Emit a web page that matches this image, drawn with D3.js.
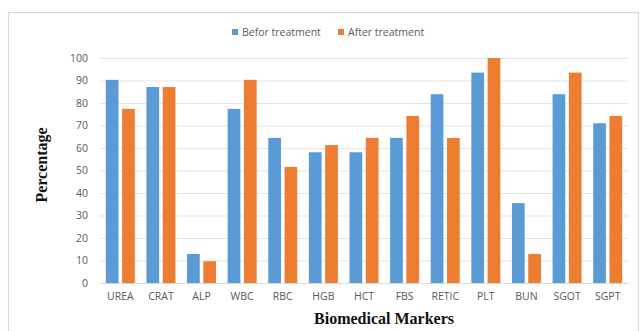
<!DOCTYPE html>
<html>
<head>
<meta charset="utf-8">
<script src="https://cdn.jsdelivr.net/npm/d3@7"></script>
<style>
  html, body { margin: 0; padding: 0; background: #fff; }
  svg { display: block; }
  .tick text { fill: #595959; font-family: 'Open Sans', sans-serif; font-size: 10.5px; }
  .axis-title { font-family: 'Liberation Serif', 'Times New Roman', serif; font-weight: bold; font-size: 16px; fill: #111; }
</style>
</head>
<body>
<svg></svg>
<script>
const markers = ['UREA', 'CRAT', 'ALP', 'WBC', 'RBC', 'HGB', 'HCT', 'FBS', 'RETIC', 'PLT', 'BUN', 'SGOT', 'SGPT'];
const before = [90.3, 87.1, 12.9, 77.4, 64.5, 58.1, 58.1, 64.5, 83.9, 93.5, 35.5, 83.9, 71.0];
const after = [77.4, 87.1, 9.7, 90.3, 51.6, 61.3, 64.5, 74.2, 64.5, 100, 12.9, 93.5, 74.2];
const seriesNames = ['Befor treatment', 'After treatment'];
const yTicks = [0, 10, 20, 30, 40, 50, 60, 70, 80, 90, 100];

const colors = ['#5B9BD5', '#ED7D31'];
const width = 641, height = 331;
const margin = {top: 58, right: 13, bottom: 48, left: 100};
const innerWidth = width - margin.left - margin.right;
const innerHeight = height - margin.top - margin.bottom;

const svg = d3.select('svg')
  .attr('width', width)
  .attr('height', height);

// chart frame (bottom edge falls outside the picture)
svg.append('rect')
  .attr('x', 8.5).attr('y', 12.5)
  .attr('width', 630).attr('height', height)
  .attr('fill', 'none')
  .attr('stroke', '#d9d9d9')
  .attr('stroke-width', 1.2);

const g = svg.append('g')
  .attr('transform', `translate(${margin.left}, ${margin.top})`);

const xScale = d3.scaleBand()
  .domain(markers)
  .range([0, innerWidth])
  .paddingInner(0.286)
  .paddingOuter(0.143);

const xInner = d3.scaleBand()
  .domain([0, 1])
  .range([0, xScale.bandwidth()])
  .paddingInner(0.22);

const yScale = d3.scaleLinear()
  .domain([0, 100])
  .range([innerHeight, 0]);

g.append('g').call(d3.axisLeft(yScale)
    .tickValues(yTicks)
    .tickSize(-innerWidth)
    .tickPadding(12))
  .call(a => a.select('.domain').remove())
  .call(a => a.selectAll('.tick line').attr('stroke', '#e3e3e3'));

g.append('g')
  .attr('transform', `translate(0, ${innerHeight})`)
  .call(d3.axisBottom(xScale).tickSize(0).tickPadding(10))
  .call(a => a.select('.domain').attr('stroke', '#d9d9d9'));

const data = markers.map((m, i) => ({marker: m, values: [before[i], after[i]]}));

const groups = g.selectAll('.group')
  .data(data)
  .join('g')
    .attr('transform', d => `translate(${xScale(d.marker)}, 0)`);

groups.selectAll('rect')
  .data(d => d.values.map((v, k) => ({k, v})))
  .join('rect')
    .attr('x', d => xInner(d.k))
    .attr('width', xInner.bandwidth())
    .attr('y', d => yScale(d.v))
    .attr('height', d => innerHeight - yScale(d.v))
    .attr('fill', d => colors[d.k]);

// legend
const legendX = [232, 338];
seriesNames.forEach((name, i) => {
  svg.append('rect')
    .attr('x', legendX[i]).attr('y', 29)
    .attr('width', 6).attr('height', 6)
    .attr('fill', colors[i]);
  svg.append('text')
    .attr('x', legendX[i] + 10).attr('y', 36)
    .attr('fill', '#595959')
    .style('font-family', "'Open Sans', sans-serif")
    .style('font-size', '10.5px')
    .text(name);
});

svg.append('text')
  .attr('class', 'axis-title')
  .attr('text-anchor', 'middle')
  .attr('transform', 'translate(47, 165) rotate(-90)')
  .text('Percentage');

svg.append('text')
  .attr('class', 'axis-title')
  .attr('text-anchor', 'middle')
  .attr('x', 384).attr('y', 324)
  .text('Biomedical Markers');
</script>
</body>
</html>
